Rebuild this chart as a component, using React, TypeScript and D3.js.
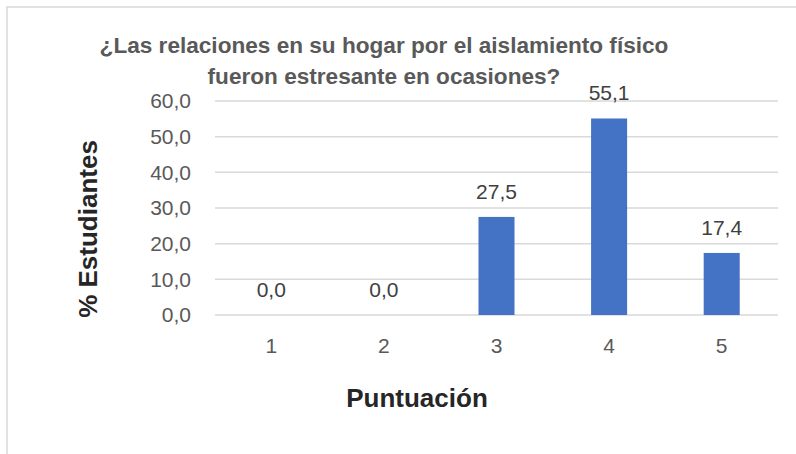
import { useEffect, useRef } from "react";
import * as d3 from "d3";

// Chart data
const categories = ["1", "2", "3", "4", "5"];
const values = [0.0, 0.0, 27.5, 55.1, 17.4];
const yTicks = [0, 10, 20, 30, 40, 50, 60];
const titleLines = [
	"¿Las relaciones en su hogar por el aislamiento físico",
	"fueron estresante en ocasiones?",
];

const width = 796;
const height = 454;
const plot = { left: 215, right: 778, top: 101, bottom: 315 };
const font = "Liberation Sans, Arial, sans-serif";

const fmt = (v: number) => v.toFixed(1).replace(".", ",");

function drawChart(el: SVGSVGElement) {
	const svg = d3.select(el);
	svg.selectAll("*").remove();

	// outer chart border (runs off the right and bottom edges)
	svg
		.append("rect")
		.attr("x", 7)
		.attr("y", 7)
		.attr("width", width + 20)
		.attr("height", height + 20)
		.attr("fill", "#ffffff")
		.attr("stroke", "#d9d9d9")
		.attr("stroke-width", 1.5);

	const x = d3
		.scaleBand<string>()
		.domain(categories)
		.range([plot.left, plot.right])
		.paddingInner(0.68)
		.paddingOuter(0.34);

	const y = d3.scaleLinear().domain([0, 60]).range([plot.bottom, plot.top]);

	// gridlines
	svg
		.append("g")
		.selectAll("line")
		.data(yTicks)
		.enter()
		.append("line")
		.attr("x1", plot.left)
		.attr("x2", plot.right)
		.attr("y1", (d) => y(d))
		.attr("y2", (d) => y(d))
		.attr("stroke", "#d9d9d9")
		.attr("stroke-width", 1.5);

	// y tick labels
	svg
		.append("g")
		.selectAll("text")
		.data(yTicks)
		.enter()
		.append("text")
		.attr("x", 191)
		.attr("y", (d) => y(d))
		.attr("dy", "0.35em")
		.attr("text-anchor", "end")
		.attr("font-family", font)
		.attr("font-size", 21)
		.attr("fill", "#595959")
		.text((d) => fmt(d));

	// bars
	svg
		.append("g")
		.selectAll("rect")
		.data(values)
		.enter()
		.append("rect")
		.attr("x", (_, i) => x(categories[i]) as number)
		.attr("y", (d) => y(d))
		.attr("width", x.bandwidth())
		.attr("height", (d) => y(0) - y(d))
		.attr("fill", "#4472c4");

	// data labels
	svg
		.append("g")
		.selectAll("text")
		.data(values)
		.enter()
		.append("text")
		.attr("x", (_, i) => (x(categories[i]) as number) + x.bandwidth() / 2)
		.attr("y", (d) => y(d) - 18)
		.attr("text-anchor", "middle")
		.attr("font-family", font)
		.attr("font-size", 21)
		.attr("fill", "#404040")
		.text((d) => fmt(d));

	// x tick labels
	svg
		.append("g")
		.selectAll("text")
		.data(categories)
		.enter()
		.append("text")
		.attr("x", (d) => (x(d) as number) + x.bandwidth() / 2)
		.attr("y", 353)
		.attr("text-anchor", "middle")
		.attr("font-family", font)
		.attr("font-size", 21)
		.attr("fill", "#595959")
		.text((d) => d);

	// title
	svg
		.append("g")
		.selectAll("text")
		.data(titleLines)
		.enter()
		.append("text")
		.attr("x", 384)
		.attr("y", (_, i) => 53 + i * 31)
		.attr("text-anchor", "middle")
		.attr("font-family", font)
		.attr("font-weight", "bold")
		.attr("font-size", 22.6)
		.attr("fill", "#595959")
		.text((d) => d);

	// axis titles
	svg
		.append("text")
		.attr("x", 417)
		.attr("y", 407)
		.attr("text-anchor", "middle")
		.attr("font-family", font)
		.attr("font-weight", "bold")
		.attr("font-size", 26)
		.attr("fill", "#262626")
		.text("Puntuación");

	svg
		.append("text")
		.attr("transform", "translate(97,229) rotate(-90)")
		.attr("text-anchor", "middle")
		.attr("font-family", font)
		.attr("font-weight", "bold")
		.attr("font-size", 26)
		.attr("fill", "#262626")
		.text("% Estudiantes");
}

export default function App() {
	const ref = useRef<SVGSVGElement>(null);

	useEffect(() => {
		if (ref.current) drawChart(ref.current);
	}, []);

	return (
		<svg
			ref={ref}
			width={width}
			height={height}
			style={{ position: "absolute", left: 0, top: 0, background: "#ffffff" }}
		/>
	);
}
